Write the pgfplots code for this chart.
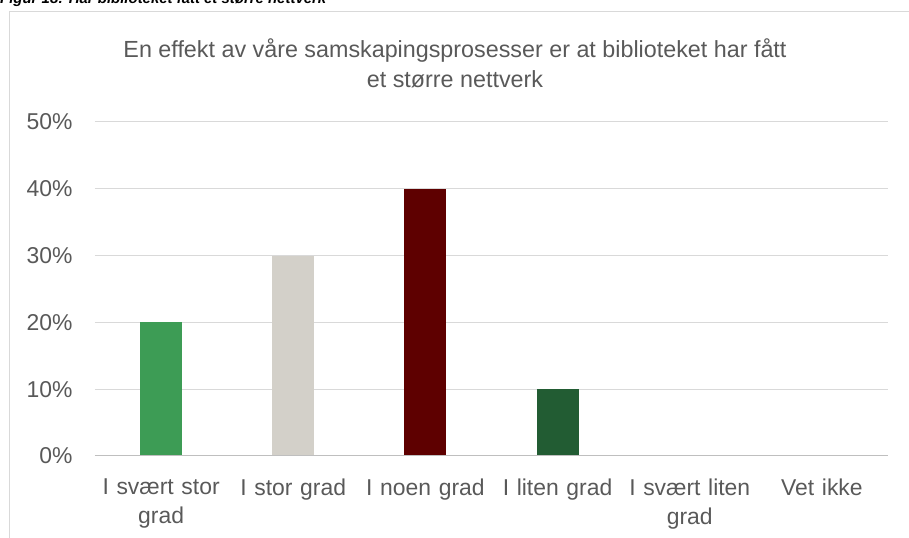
\documentclass[border=0pt]{standalone}
\usepackage{pgfplots}
\pgfplotsset{compat=1.18}
\usepackage{fontspec}
\setmainfont{Liberation Sans}
\definecolor{txt}{HTML}{595959}
\definecolor{gridc}{HTML}{D9D9D9}
\definecolor{axc}{HTML}{BFBFBF}
\definecolor{cA}{HTML}{3D9C55}
\definecolor{cB}{HTML}{D3D0C9}
\definecolor{cC}{HTML}{5E0000}
\definecolor{cD}{HTML}{225C33}
\begin{document}
\begin{tikzpicture}[x=1bp,y=1bp]
\useasboundingbox (-95,-82) rectangle (814,456);
% chart frame and the caption above it (cut by the page edge, as in the source)
\draw[gridc, line width=1bp] (-85,-120) rectangle (840,444);
\node[anchor=base west, font=\bfseries\itshape\fontsize{15}{18}\selectfont, inner sep=0] at (-95,452) {Figur 18: Har biblioteket fått et større nettverk};
\node[align=center, text=txt, font=\fontsize{23.4}{30}\selectfont] at (360,393) {En effekt av våre samskapingsprosesser er at biblioteket har fått\\et større nettverk};
\begin{axis}[
  at={(0,0)}, anchor=south west,
  width=793bp, height=334bp, scale only axis,
  xmin=-0.5, xmax=5.5, ymin=0, ymax=0.5,
  ytick={0,0.1,0.2,0.3,0.4,0.5},
  yticklabel={\pgfmathparse{100*\tick}\pgfmathprintnumber[fixed, precision=0]{\pgfmathresult}\%},
  /pgf/number format/assume math mode=true,
  xtick={0,1,2,3,4,5},
  xticklabels={{I svært stor\\grad},{I stor grad},{I noen grad},{I liten grad},{I svært liten\\grad},{Vet ikke}},
  x tick label style={align=center, text width=132bp, font=\fontsize{23}{29}\selectfont, yshift=-19bp},
  y tick label style={font=\fontsize{23}{26}\selectfont, xshift=-19bp},
  tick label style={text=txt},
  major tick length=0pt,
  axis line style={draw=none},
  ymajorgrids, grid style={gridc, line width=1bp},
  clip=false,
]
\addplot[ybar, bar width=42bp, bar shift=0pt, fill=cA, draw=none] coordinates {(0,0.20)};
\addplot[ybar, bar width=42bp, bar shift=0pt, fill=cB, draw=none] coordinates {(1,0.30)};
\addplot[ybar, bar width=42bp, bar shift=0pt, fill=cC, draw=none] coordinates {(2,0.40)};
\addplot[ybar, bar width=42bp, bar shift=0pt, fill=cD, draw=none] coordinates {(3,0.10)};
\addplot[ybar, bar width=42bp, bar shift=0pt, fill=cA, draw=none] coordinates {(4,0) (5,0)};
\draw[axc, line width=1bp] (rel axis cs:0,0) -- (rel axis cs:1,0);
\end{axis}
\end{tikzpicture}
\end{document}
